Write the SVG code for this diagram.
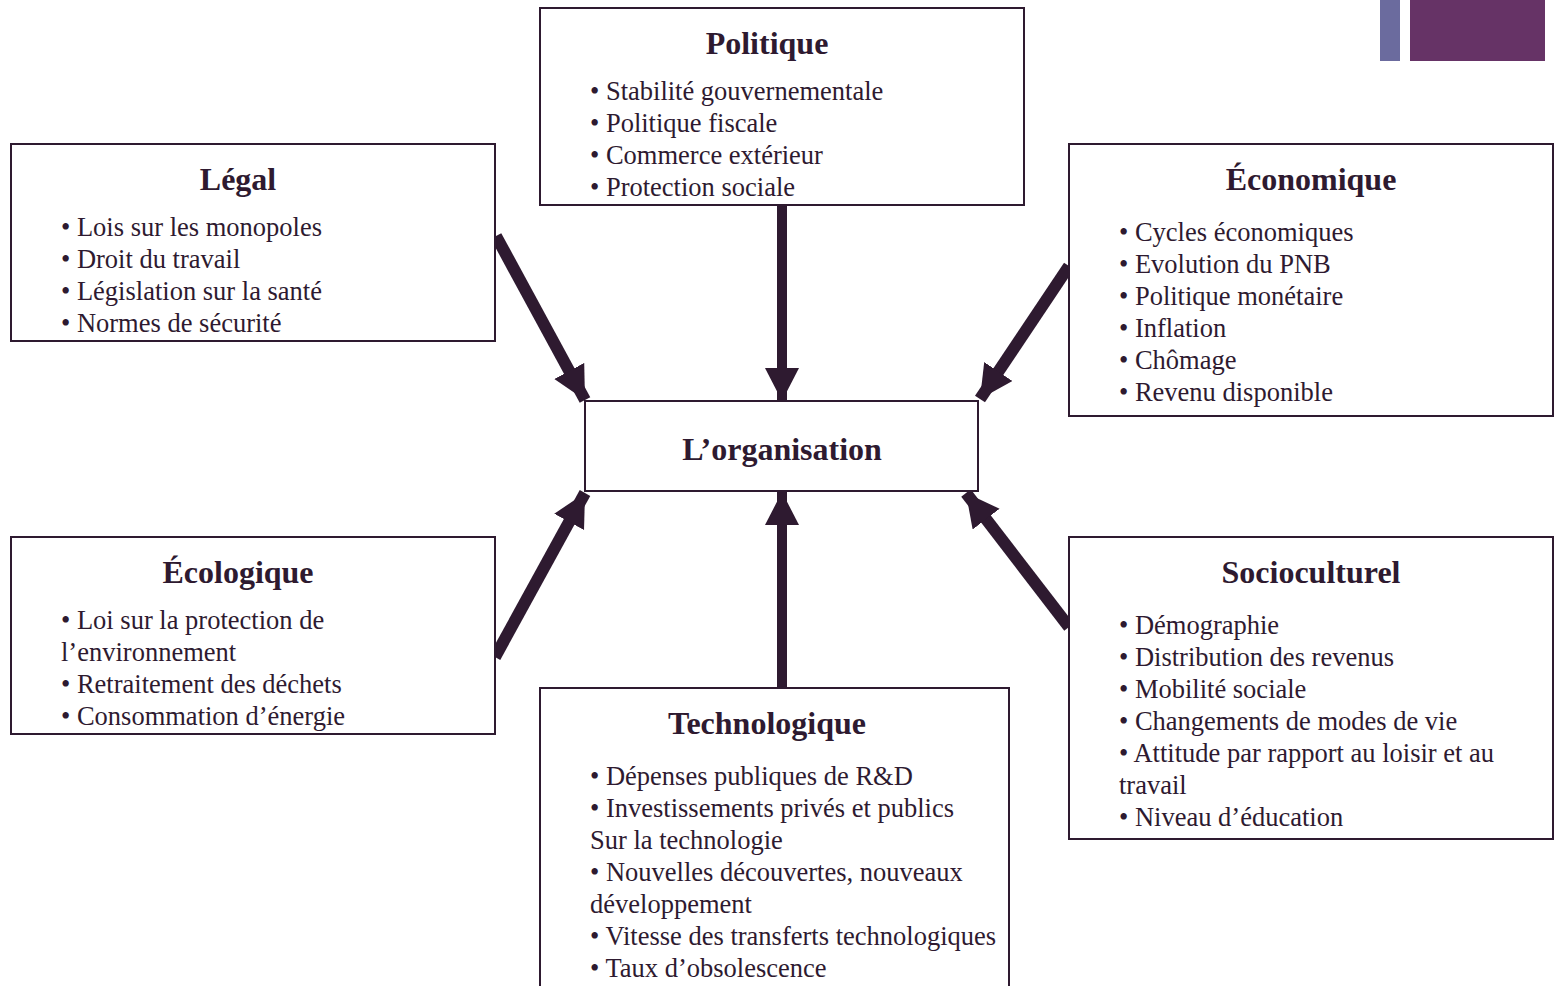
<svg xmlns="http://www.w3.org/2000/svg" width="1558" height="986" viewBox="0 0 1558 986">
<style>
.box{fill:#fff;stroke:#2e1a30;stroke-width:2}
.t{font-family:"Liberation Serif","Times New Roman",serif;font-weight:bold;font-size:32px;fill:#2e1a30;text-anchor:middle}
.b{font-family:"Liberation Serif","Times New Roman",serif;font-size:26.5px;fill:#2e1a30}
.a{stroke:#2e1a30;stroke-width:10;fill:none}
.d{stroke:#2e1a30;stroke-width:12;fill:none}
</style>
<defs>
<marker id="ah" markerUnits="userSpaceOnUse" markerWidth="36" markerHeight="36" refX="33" refY="17" orient="auto" viewBox="0 0 36 36">
<path d="M0,0 L33,17 L0,34 Z" fill="#2e1a30"/>
</marker>
</defs>
<rect x="1380" y="0" width="20" height="61" fill="#6b6b9e"/>
<rect x="1410" y="0" width="135" height="61" fill="#663366"/>
<g id="connectors">
<path class="a" d="M782,205 L782,401" marker-end="url(#ah)"/>
<path class="d" d="M496,236 L585,400" marker-end="url(#ah)"/>
<path class="d" d="M1069,266 L980,399" marker-end="url(#ah)"/>
<path class="d" d="M495,657 L585,493" marker-end="url(#ah)"/>
<path class="a" d="M782,688 L782,492" marker-end="url(#ah)"/>
<path class="d" d="M1069,627 L966,493" marker-end="url(#ah)"/>
</g>
<g id="politique">
<rect class="box" x="540" y="8" width="484" height="197"/>
<text class="t" x="767" y="54">Politique</text>
<text class="b" x="590" y="100">• Stabilité gouvernementale</text>
<text class="b" x="590" y="132">• Politique fiscale</text>
<text class="b" x="590" y="164">• Commerce extérieur</text>
<text class="b" x="590" y="196">• Protection sociale</text>
</g>
<g id="legal">
<rect class="box" x="11" y="144" width="484" height="197"/>
<text class="t" x="238" y="190">Légal</text>
<text class="b" x="61" y="236">• Lois sur les monopoles</text>
<text class="b" x="61" y="268">• Droit du travail</text>
<text class="b" x="61" y="300">• Législation sur la santé</text>
<text class="b" x="61" y="332">• Normes de sécurité</text>
</g>
<g id="economique">
<rect class="box" x="1069" y="144" width="484" height="272"/>
<text class="t" x="1311" y="190">Économique</text>
<text class="b" x="1119" y="241">• Cycles économiques</text>
<text class="b" x="1119" y="273">• Evolution du PNB</text>
<text class="b" x="1119" y="305">• Politique monétaire</text>
<text class="b" x="1119" y="337">• Inflation</text>
<text class="b" x="1119" y="369">• Chômage</text>
<text class="b" x="1119" y="401">• Revenu disponible</text>
</g>
<g id="organisation">
<rect class="box" x="585" y="401" width="393" height="90"/>
<text class="t" x="782" y="460">L’organisation</text>
</g>
<g id="ecologique">
<rect class="box" x="11" y="537" width="484" height="197"/>
<text class="t" x="238" y="583">Écologique</text>
<text class="b" x="61" y="629">• Loi sur la protection de</text>
<text class="b" x="61" y="661">l’environnement</text>
<text class="b" x="61" y="693">• Retraitement des déchets</text>
<text class="b" x="61" y="725">• Consommation d’énergie</text>
</g>
<g id="technologique">
<rect class="box" x="540" y="688" width="469" height="310"/>
<text class="t" x="767" y="734">Technologique</text>
<text class="b" x="590" y="785">• Dépenses publiques de R&amp;D</text>
<text class="b" x="590" y="817">• Investissements privés et publics</text>
<text class="b" x="590" y="849">Sur la technologie</text>
<text class="b" x="590" y="881">• Nouvelles découvertes, nouveaux</text>
<text class="b" x="590" y="913">développement</text>
<text class="b" x="590" y="945">• Vitesse des transferts technologiques</text>
<text class="b" x="590" y="977">• Taux d’obsolescence</text>
</g>
<g id="socioculturel">
<rect class="box" x="1069" y="537" width="484" height="302"/>
<text class="t" x="1311" y="583">Socioculturel</text>
<text class="b" x="1119" y="634">• Démographie</text>
<text class="b" x="1119" y="666">• Distribution des revenus</text>
<text class="b" x="1119" y="698">• Mobilité sociale</text>
<text class="b" x="1119" y="730">• Changements de modes de vie</text>
<text class="b" x="1119" y="762">• Attitude par rapport au loisir et au</text>
<text class="b" x="1119" y="794">travail</text>
<text class="b" x="1119" y="826">• Niveau d’éducation</text>
</g>
</svg>
